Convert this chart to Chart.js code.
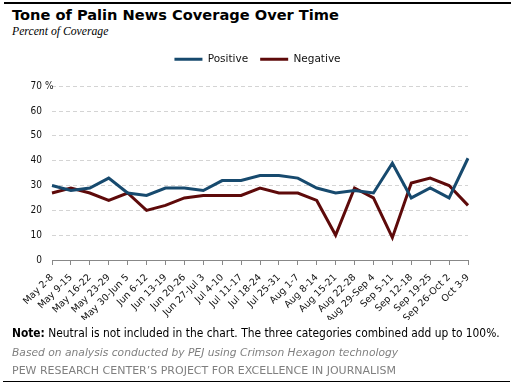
<!DOCTYPE html>
<html>
<head>
<meta charset="utf-8">
<script src="https://cdn.jsdelivr.net/npm/chart.js@4"></script>
<style>
  html, body { margin:0; padding:0; background:#fff; }
  body { width:515px; height:387px; position:relative; overflow:hidden; font-family:"DejaVu Sans", sans-serif; }
  #c { position:absolute; left:0; top:0; }
  .t { position:absolute; white-space:nowrap; }
  #title { left:12px; top:7px; font-size:14.6px; line-height:16px; font-weight:bold; color:#000; }
  #sub { left:12px; top:25px; font-family:"Liberation Serif", serif; font-style:italic; font-size:12.5px; line-height:14px; color:#000; }
  #note { left:12px; top:326px; font-size:11.2px; line-height:14px; color:#000; font-stretch:condensed; }
  #src { left:12px; top:346px; font-size:10.7px; line-height:14px; color:#7f7f7f; font-style:italic; }
  #pew { left:12px; top:364px; font-size:11px; line-height:14px; color:#7f7f7f; }
  .rule { position:absolute; background:#000; }
</style>
</head>
<body>
<div class="rule" style="left:4px; top:2px; width:507px; height:2px;"></div>
<div class="t" id="title">Tone of Palin News Coverage Over Time</div>
<div class="t" id="sub">Percent of Coverage</div>
<canvas id="c" width="515" height="387"></canvas>
<div class="t" id="note"><b>Note:</b> Neutral is not included in the chart. The three categories combined add up to 100%.</div>
<div class="t" id="src">Based on analysis conducted by PEJ using Crimson Hexagon technology</div>
<div class="t" id="pew">PEW RESEARCH CENTER’S PROJECT FOR EXCELLENCE IN JOURNALISM</div>
<div class="rule" style="left:3px; top:381px; width:507px; height:1px;"></div>
<script>
// ---- Data ----
const categories = ['May 2-8','May 9-15','May 16-22','May 23-29','May 30-Jun 5','Jun 6-12','Jun 13-19','Jun 20-26','Jun 27-Jul 3','Jul 4-10','Jul 11-17','Jul 18-24','Jul 25-31','Aug 1-7','Aug 8-14','Aug 15-21','Aug 22-28','Aug 29-Sep 4','Sep 5-11','Sep 12-18','Sep 19-25','Sep 26-Oct 2','Oct 3-9'];
const positive = [30,28,29,33,27,26,29,29,28,32,32,34,34,33,29,27,28,27,39,25,29,25,41];
const negative = [27,29,27,24,27,20,22,25,26,26,26,29,27,27,24,10,29,25,9,31,33,30,22];
const yTicks = [0,10,20,30,40,50,60,70];
const seriesNames = ['Positive','Negative'];

const BLUE = '#174a6e';
const RED = '#5e0a0a';
const FONT_C = '"DejaVu Sans Condensed", "DejaVu Sans", sans-serif';
const FONT = '"DejaVu Sans", sans-serif';

// fit text blocks to the reference widths
function fitWidth(id, target) {
  const el = document.getElementById(id);
  const fs = parseFloat(getComputedStyle(el).fontSize);
  const w = el.getBoundingClientRect().width;
  if (w > 0) el.style.fontSize = (fs * target / w).toFixed(2) + 'px';
}
fitWidth('title', 327);
fitWidth('sub', 96.5);
fitWidth('note', 487);
fitWidth('src', 386);
fitWidth('pew', 384);

const percentPlugin = {
  id: 'percentSign',
  afterDraw(chart) {
    const y = chart.scales.y;
    const ctx = chart.ctx;
    ctx.save();
    ctx.font = '10px ' + FONT_C;
    ctx.fillStyle = '#111';
    ctx.textAlign = 'left';
    ctx.textBaseline = 'middle';
    ctx.fillText('%', y.right - 7, y.getPixelForValue(yTicks[yTicks.length - 1]));
    ctx.restore();
  }
};

new Chart(document.getElementById('c'), {
  type: 'line',
  data: {
    labels: categories,
    datasets: [
      { label: seriesNames[0], data: positive, borderColor: BLUE, backgroundColor: BLUE, borderWidth: 3, pointRadius: 0, pointStyle: 'line', tension: 0 },
      { label: seriesNames[1], data: negative, borderColor: RED, backgroundColor: RED, borderWidth: 3, pointRadius: 0, pointStyle: 'line', tension: 0 }
    ]
  },
  options: {
    responsive: false,
    animation: false,
    layout: { padding: { top: 42, left: 0, right: 0, bottom: 67 } },
    plugins: {
      legend: {
        display: true, position: 'top',
        labels: { usePointStyle: true, pointStyle: 'line', pointStyleWidth: 28, padding: 12, color: '#111', font: { family: FONT, size: 10.5 } }
      },
      title: { display: true, text: '', weight: 500, padding: 0, font: { size: 11.75, lineHeight: 1 } },
      subtitle: { display: true, text: '', position: 'right', fullSize: false, padding: 0, font: { size: 47, lineHeight: 1 } },
      tooltip: { enabled: false }
    },
    scales: {
      x: {
        offset: false,
        grid: { display: true, drawOnChartArea: false, drawTicks: true, tickLength: 5, color: '#888' },
        border: { display: true, color: '#888', width: 1 },
        ticks: { autoSkip: false, minRotation: 45, maxRotation: 45, padding: 7, color: '#111', font: { family: FONT, size: 9.5 } },
        afterFit(scale) { scale.height = 60; }
      },
      y: {
        min: 0, max: 70,
        afterBuildTicks(scale) { scale.ticks = yTicks.map(v => ({ value: v })); },
        grid: { color: '#d4d4d4', drawTicks: false, lineWidth: 1 },
        border: { display: false, dash: [4, 3] },
        ticks: { padding: 10, color: '#111', font: { family: FONT_C, size: 10 } },
        afterFit(scale) { scale.width = 52; }
      }
    }
  },
  plugins: [percentPlugin]
});
</script>
</body>
</html>
